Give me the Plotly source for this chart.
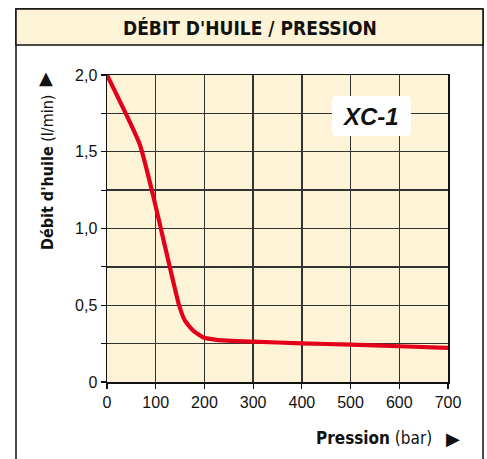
import plotly.graph_objects as go

# ---- data ----
pression_bar = [0, 67, 95, 148, 160, 177, 198, 225, 300, 400, 500, 600, 700]
debit_lmin = [2.0, 1.55, 1.21, 0.50, 0.40, 0.335, 0.29, 0.275, 0.263, 0.252, 0.243, 0.233, 0.222]
x_ticks = [0, 100, 200, 300, 400, 500, 600, 700]
y_ticks = [0, 0.25, 0.5, 0.75, 1.0, 1.25, 1.5, 1.75, 2.0]
y_ticktext = ["0", "", "0,5", "", "1,0", "", "1,5", "", "2,0"]
title_text = "DÉBIT D'HUILE / PRESSION"
model_label = "XC-1"

W, H = 487, 459
L, R, T, B = 107, 448, 75, 382  # plot area in screen pixels

def px(x):
    return (x - L) / (R - L)

def py(y):
    return (B - y) / (B - T)

BEIGE = "#fdf4d7"
RED = "#e2001a"
GRID = "#333333"
FONT = "Liberation Sans, Arial, Helvetica, sans-serif"
NARROW = "Liberation Sans Narrow, Arial Narrow, DejaVu Sans Condensed, sans-serif"

fig = go.Figure()
fig.add_trace(go.Scatter(
    x=pression_bar, y=debit_lmin, mode="lines",
    line=dict(color=RED, width=4.2, shape="spline", smoothing=0.5),
    hoverinfo="skip", showlegend=False,
))

fig.update_layout(
    width=W, height=H,
    margin=dict(l=L, r=W - R, t=T, b=H - B, pad=0),
    paper_bgcolor="white",
    plot_bgcolor=BEIGE,
    showlegend=False,
    font=dict(family=FONT, color="#111111", size=16),
)
axis_common = dict(
    showgrid=True, gridcolor=GRID, gridwidth=1.4,
    showline=True, linecolor="#111", linewidth=1.5, mirror=True,
    ticks="outside", ticklen=5, tickcolor="#111", tickwidth=1.2,
    tickfont=dict(size=16, family=FONT), zeroline=False, fixedrange=True,
    automargin=False,
)
fig.update_xaxes(range=[0, 700], tickvals=x_ticks, ticktext=[str(v) for v in x_ticks], **axis_common)
fig.update_yaxes(range=[0, 2.0], tickvals=y_ticks, ticktext=y_ticktext, **axis_common)

shapes = []
shapes.append(dict(type="rect", xref="paper", yref="paper",
                   x0=px(16), x1=px(483), y0=py(470), y1=py(9),
                   line=dict(color="#111", width=1.5), fillcolor="rgba(0,0,0,0)", layer="below"))
shapes.append(dict(type="rect", xref="paper", yref="paper",
                   x0=px(16), x1=px(483), y0=py(45), y1=py(9),
                   line=dict(color="#111", width=1.5), fillcolor=BEIGE, layer="below"))

bx0, bx1, by0, by1, r = 332, 411, 96, 136, 5
path = (f"M {px(bx0 + r)},{py(by0)} L {px(bx1 - r)},{py(by0)} "
        f"Q {px(bx1)},{py(by0)} {px(bx1)},{py(by0 + r)} "
        f"L {px(bx1)},{py(by1 - r)} Q {px(bx1)},{py(by1)} {px(bx1 - r)},{py(by1)} "
        f"L {px(bx0 + r)},{py(by1)} Q {px(bx0)},{py(by1)} {px(bx0)},{py(by1 - r)} "
        f"L {px(bx0)},{py(by0 + r)} Q {px(bx0)},{py(by0)} {px(bx0 + r)},{py(by0)} Z")
shapes.append(dict(type="path", xref="paper", yref="paper", path=path,
                   fillcolor="white", line=dict(width=0), layer="above"))
fig.update_layout(shapes=shapes)

ann = []
ann.append(dict(text=f"<b>{title_text}</b>", xref="paper", yref="paper",
                x=px(249.5), y=py(28), showarrow=False, xanchor="center", yanchor="middle",
                font=dict(family=NARROW, size=19, color="#111")))
ann.append(dict(text=f"<b><i>{model_label}</i></b>", xref="paper", yref="paper",
                x=px(370), y=py(116.5), showarrow=False, xanchor="center", yanchor="middle",
                font=dict(family=FONT, size=24, color="#111")))
ann.append(dict(text="<b>Débit d'huile</b> (l/min)", xref="paper", yref="paper",
                x=px(47), y=py(172), showarrow=False, textangle=-90,
                xanchor="center", yanchor="middle",
                font=dict(family=NARROW, size=16, color="#111")))
ann.append(dict(text="▲", xref="paper", yref="paper",
                x=px(46), y=py(77), showarrow=False, xanchor="center", yanchor="middle",
                font=dict(family="DejaVu Sans", size=18, color="#111")))
ann.append(dict(text="<b>Pression</b> (bar)", xref="paper", yref="paper",
                x=px(434), y=py(438), showarrow=False, xanchor="right", yanchor="middle",
                font=dict(family=NARROW, size=17, color="#111")))
ann.append(dict(text="▶", xref="paper", yref="paper",
                x=px(452.5), y=py(438), showarrow=False, xanchor="center", yanchor="middle",
                font=dict(family="DejaVu Sans", size=18, color="#111")))
fig.update_layout(annotations=ann)

fig.write_html(
    "out.html",
    config={"displayModeBar": False, "staticPlot": True},
    post_script="document.body.style.margin='0';document.body.style.overflow='hidden';",
)
